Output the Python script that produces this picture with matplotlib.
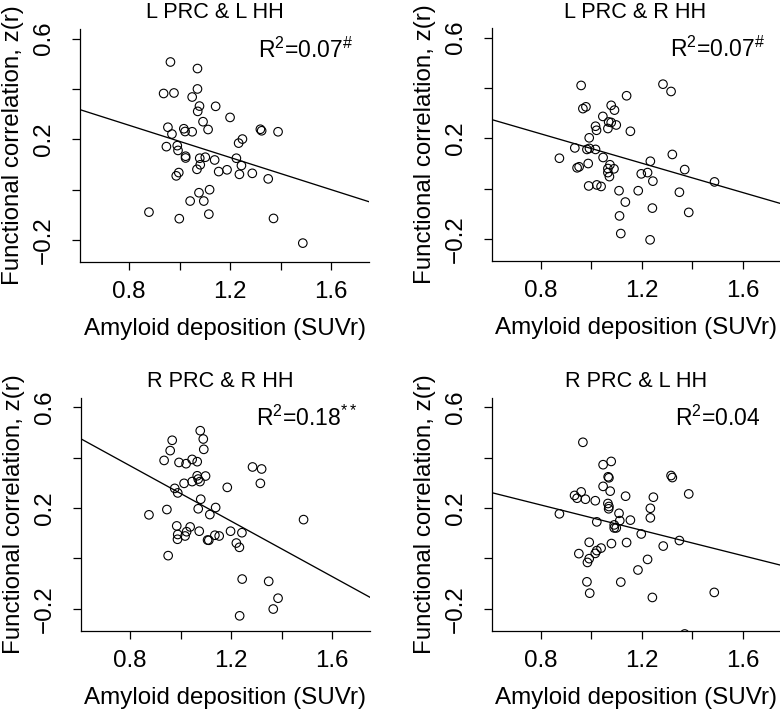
import numpy as np
import matplotlib
matplotlib.use("Agg")
import matplotlib.pyplot as plt

plt.rcParams['font.family'] = ['Liberation Sans', 'DejaVu Sans']
plt.rcParams['mathtext.fontset'] = 'custom'
plt.rcParams['mathtext.rm'] = 'Liberation Sans'
plt.rcParams['mathtext.it'] = 'Liberation Sans:italic'
plt.rcParams['mathtext.bf'] = 'Liberation Sans:bold'

# ---------------- data ----------------
titles = ["L PRC & L HH", "L PRC & R HH", "R PRC & R HH", "R PRC & L HH"]
r2_values = ["0.07", "0.07", "0.18", "0.04"]
r2_marks = ["#", "#", "**", ""]

x_lplh = [0.879, 0.964, 0.937, 0.978, 1.071, 1.071, 1.050, 1.079, 1.072, 1.143,
          1.200, 1.093, 1.113, 0.954, 0.970, 1.017, 1.022, 1.050, 1.320, 1.325,
          1.390, 1.249, 1.234, 0.948, 0.991, 0.994, 1.024, 1.024, 1.080, 1.102,
          1.139, 1.082, 1.069, 1.225, 1.245, 1.155, 1.188, 1.237, 1.288, 1.351,
          0.997, 0.987, 1.077, 1.119, 1.042, 1.096, 1.116, 0.999, 1.372, 1.488]
y_lplh = [-0.089, 0.507, 0.382, 0.384, 0.481, 0.400, 0.368, 0.332, 0.311, 0.331,
          0.287, 0.270, 0.239, 0.248, 0.221, 0.242, 0.231, 0.230, 0.240, 0.234,
          0.230, 0.201, 0.185, 0.171, 0.175, 0.156, 0.133, 0.126, 0.125, 0.129,
          0.118, 0.099, 0.081, 0.125, 0.096, 0.072, 0.079, 0.061, 0.065, 0.043,
          0.068, 0.055, -0.012, 0.000, -0.045, -0.045, -0.097, -0.115, -0.114, -0.212]

x_lprh = [0.960, 0.967, 0.979, 1.140, 1.284, 1.316, 1.079, 1.092, 1.046, 1.069,
          1.079, 1.099, 1.017, 1.021, 1.066, 1.155, 0.992, 0.935, 0.983, 0.993,
          1.017, 0.874, 1.047, 0.988, 0.944, 0.952, 1.074, 1.066, 1.090, 1.066,
          1.072, 1.234, 1.321, 1.370, 1.198, 1.223, 1.244, 1.488, 0.990, 1.022,
          1.039, 1.110, 1.186, 1.349, 1.135, 1.112, 1.242, 1.386, 1.117, 1.233]
y_lprh = [0.410, 0.318, 0.325, 0.369, 0.415, 0.386, 0.331, 0.312, 0.287, 0.265,
          0.263, 0.253, 0.248, 0.232, 0.239, 0.228, 0.202, 0.162, 0.156, 0.160,
          0.156, 0.121, 0.124, 0.100, 0.083, 0.087, 0.095, 0.080, 0.079, 0.064,
          0.048, 0.109, 0.136, 0.076, 0.059, 0.064, 0.030, 0.027, 0.011, 0.015,
          0.009, -0.008, -0.008, -0.014, -0.053, -0.108, -0.077, -0.094, -0.178, -0.203]

x_rprh = [1.078, 0.967, 1.090, 0.959, 1.092, 0.935, 0.994, 1.022, 1.046, 1.066,
          1.285, 1.321, 1.316, 1.066, 1.099, 1.070, 1.077, 1.046, 1.014, 0.977,
          0.989, 1.185, 1.080, 0.946, 1.070, 1.139, 0.875, 1.116, 1.487, 0.985,
          1.038, 1.024, 0.989, 1.018, 0.988, 1.074, 1.107, 1.112, 1.136, 1.153,
          1.198, 1.243, 1.221, 1.233, 0.951, 1.244, 1.349, 1.386, 1.367, 1.234]
y_rprh = [0.507, 0.469, 0.474, 0.428, 0.433, 0.389, 0.381, 0.376, 0.393, 0.384,
          0.363, 0.355, 0.298, 0.328, 0.327, 0.315, 0.305, 0.305, 0.298, 0.278,
          0.260, 0.282, 0.235, 0.194, 0.197, 0.202, 0.173, 0.174, 0.154, 0.129,
          0.125, 0.106, 0.095, 0.089, 0.076, 0.108, 0.073, 0.072, 0.092, 0.089,
          0.108, 0.102, 0.061, 0.044, 0.011, -0.082, -0.091, -0.158, -0.201, -0.228]

x_rplh = [0.967, 1.079, 1.047, 1.067, 1.070, 1.316, 1.321, 1.047, 1.075, 0.960,
          0.934, 0.944, 0.977, 1.016, 1.136, 1.246, 1.386, 1.066, 1.070, 1.069,
          1.234, 0.874, 1.110, 1.234, 1.022, 1.113, 1.155, 1.091, 1.091, 1.099,
          1.198, 1.349, 1.285, 0.992, 1.140, 1.080, 1.039, 1.022, 1.016, 0.951,
          0.992, 0.985, 1.223, 1.185, 0.983, 1.117, 0.994, 1.242, 1.487, 1.370]
y_rplh = [0.461, 0.385, 0.372, 0.324, 0.320, 0.329, 0.321, 0.286, 0.267, 0.264,
          0.250, 0.239, 0.235, 0.229, 0.247, 0.243, 0.256, 0.218, 0.206, 0.197,
          0.199, 0.177, 0.179, 0.161, 0.145, 0.150, 0.152, 0.133, 0.121, 0.121,
          0.097, 0.071, 0.049, 0.064, 0.063, 0.059, 0.041, 0.031, 0.020, 0.019,
          -0.001, -0.016, -0.004, -0.046, -0.093, -0.094, -0.138, -0.155, -0.135, -0.300]

xs = [x_lplh, x_lprh, x_rprh, x_rplh]
ys = [y_lplh, y_lprh, y_rprh, y_rplh]

x_ticks = [0.8, 1.0, 1.2, 1.4, 1.6]
x_ticklabels = ["0.8", "", "1.2", "", "1.6"]
y_ticks = [-0.2, 0.0, 0.2, 0.4, 0.6]
y_ticklabels = ["\u22120.2", "", "0.2", "", "0.6"]

# ---------------- layout ----------------
W, H = 780, 712
fig = plt.figure(figsize=(W / 100, H / 100), dpi=100)
boxes = [(80, 262), (491.7, 261), (81, 630.7), (491.7, 630.7)]
aw, ah = 289, 233
title_x = [0.467, 0.496, 0.481, 0.499]
title_y = [1.047, 1.042, 1.044, 1.044]

for i in range(4):
    lx, by = boxes[i]
    ax = fig.add_axes([lx / W, (H - by) / H, aw / W, ah / H])
    x = np.array(xs[i]); y = np.array(ys[i])
    ax.scatter(x, y, s=38, facecolors='none', edgecolors='black', linewidths=0.8, zorder=3)
    m, b = np.polyfit(x, y, 1)
    ax.axline((0.0, b), slope=m, color='black', lw=0.95)
    ax.set_xlim(0.606, 1.75)
    ax.set_ylim(-0.287, 0.638)
    for s in ['top', 'right']:
        ax.spines[s].set_visible(False)
    for s in ['left', 'bottom']:
        ax.spines[s].set_linewidth(0.9)
    ax.set_xticks(x_ticks)
    ax.set_xticklabels(x_ticklabels, fontsize=17.4)
    ax.set_yticks(y_ticks)
    ax.set_yticklabels(y_ticklabels, fontsize=17.4, rotation=90, va='center')
    ax.tick_params(axis='x', length=6, width=0.9, pad=8)
    ax.tick_params(axis='y', length=6, width=0.9, pad=12)
    ax.set_xlabel("Amyloid deposition (SUVr)", fontsize=17.4)
    ax.xaxis.set_label_coords(0.5, -0.24)
    ax.set_ylabel("Functional correlation, z(r)", fontsize=17.4)
    ax.yaxis.set_label_coords(-0.194, 0.5)
    ax.text(title_x[i], title_y[i], titles[i], transform=ax.transAxes,
            ha='center', va='baseline', fontsize=15.6)
    mark = r2_marks[i].replace('#', r'\#')
    label = r'R$^{\mathrm{2}}$=' + r2_values[i]
    if mark:
        label += r'$^{\mathrm{' + mark + r'}}$'
    ax.text(1.50, 0.525, label, ha='center', va='baseline', fontsize=16.5)

fig.savefig("out.png", dpi=100)
